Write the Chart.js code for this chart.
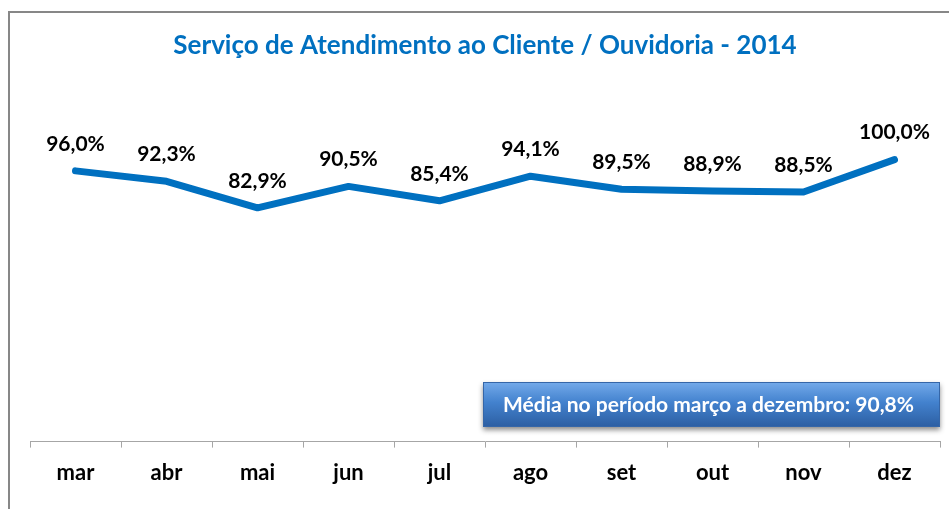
<!DOCTYPE html>
<html>
<head>
<meta charset="utf-8">
<script src="https://cdn.jsdelivr.net/npm/chart.js@4.4.0/dist/chart.umd.min.js"></script>
<style>
html,body{margin:0;padding:0;background:#fff;}
#wrap{width:949px;height:509px;}
</style>
</head>
<body>
<div id="wrap"><canvas id="c" width="949" height="509"></canvas></div>
<script>
const months = ['mar','abr','mai','jun','jul','ago','set','out','nov','dez'];
const values = [96.0, 92.3, 82.9, 90.5, 85.4, 94.1, 89.5, 88.9, 88.5, 100.0];
const titleText = 'Serviço de Atendimento ao Cliente / Ouvidoria - 2014';
const averageText = 'Média no período março a dezembro: 90,8%';
const yMin = 0, yMax = 120;

const fmt = v => v.toFixed(1).replace('.', ',') + '%';

const frame = {
  id: 'frame',
  beforeDraw(chart) {
    const ctx = chart.ctx;
    ctx.save();
    ctx.fillStyle = '#fff';
    ctx.fillRect(0, 0, chart.width, chart.height);
    ctx.strokeStyle = '#878787';
    ctx.lineWidth = 2;
    ctx.strokeRect(9, 12, chart.width + 20, chart.height + 20);
    ctx.restore();
  }
};

const dataLabels = {
  id: 'dataLabels',
  afterDatasetsDraw(chart) {
    const ctx = chart.ctx;
    const meta = chart.getDatasetMeta(0);
    ctx.save();
    ctx.font = 'bold 21px Lato';
    ctx.fillStyle = '#000';
    ctx.textAlign = 'center';
    ctx.textBaseline = 'middle';
    meta.data.forEach((pt, i) => {
      ctx.fillText(fmt(values[i]), pt.x, pt.y - 27);
    });
    ctx.restore();
  }
};

const avgBox = {
  id: 'avgBox',
  afterDraw(chart) {
    const ctx = chart.ctx;
    const x = 483, y = 382, w = 457, h = 45;
    ctx.save();
    ctx.shadowColor = 'rgba(0,0,0,0.45)';
    ctx.shadowBlur = 5;
    ctx.shadowOffsetY = 3;
    const g = ctx.createLinearGradient(0, y, 0, y + h);
    g.addColorStop(0, '#74AAEA');
    g.addColorStop(0.45, '#4382CE');
    g.addColorStop(1, '#2C5EA2');
    ctx.fillStyle = g;
    ctx.fillRect(x, y, w, h);
    ctx.shadowColor = 'transparent';
    ctx.strokeStyle = '#3566A8';
    ctx.lineWidth = 1;
    ctx.strokeRect(x + 0.5, y + 0.5, w - 1, h - 1);
    ctx.font = 'bold 21px Lato';
    ctx.fillStyle = '#fff';
    ctx.textAlign = 'center';
    ctx.textBaseline = 'middle';
    ctx.fillText(averageText, x + w / 2 - 3, y + h / 2 + 1);
    ctx.restore();
  }
};

new Chart(document.getElementById('c'), {
  type: 'line',
  data: {
    labels: months,
    datasets: [{
      data: values,
      borderColor: '#0070C0',
      borderWidth: 7,
      pointRadius: 0,
      pointHoverRadius: 0,
      tension: 0,
      borderCapStyle: 'round',
      borderJoinStyle: 'round',
      fill: false
    }]
  },
  options: {
    responsive: false,
    animation: false,
    devicePixelRatio: 1,
    layout: { padding: { left: 30, right: 9, top: 0, bottom: 11 } },
    plugins: {
      legend: { display: false },
      tooltip: { enabled: false },
      title: {
        display: true,
        text: titleText,
        color: '#0070C0',
        font: { family: 'Lato', size: 26, weight: 'bold', lineHeight: 1.2 },
        padding: { top: 30, bottom: 42 }
      }
    },
    scales: {
      x: {
        offset: true,
        grid: { offset: true, drawOnChartArea: false, drawTicks: true, tickLength: 6, color: '#A6A6A6' },
        border: { display: true, color: '#A6A6A6', width: 1 },
        ticks: { color: '#000', font: { family: 'Lato', size: 22, weight: 'bold' }, padding: 12 }
      },
      y: {
        display: false,
        min: yMin,
        max: yMax
      }
    }
  },
  plugins: [frame, dataLabels, avgBox]
});
</script>
</body>
</html>
